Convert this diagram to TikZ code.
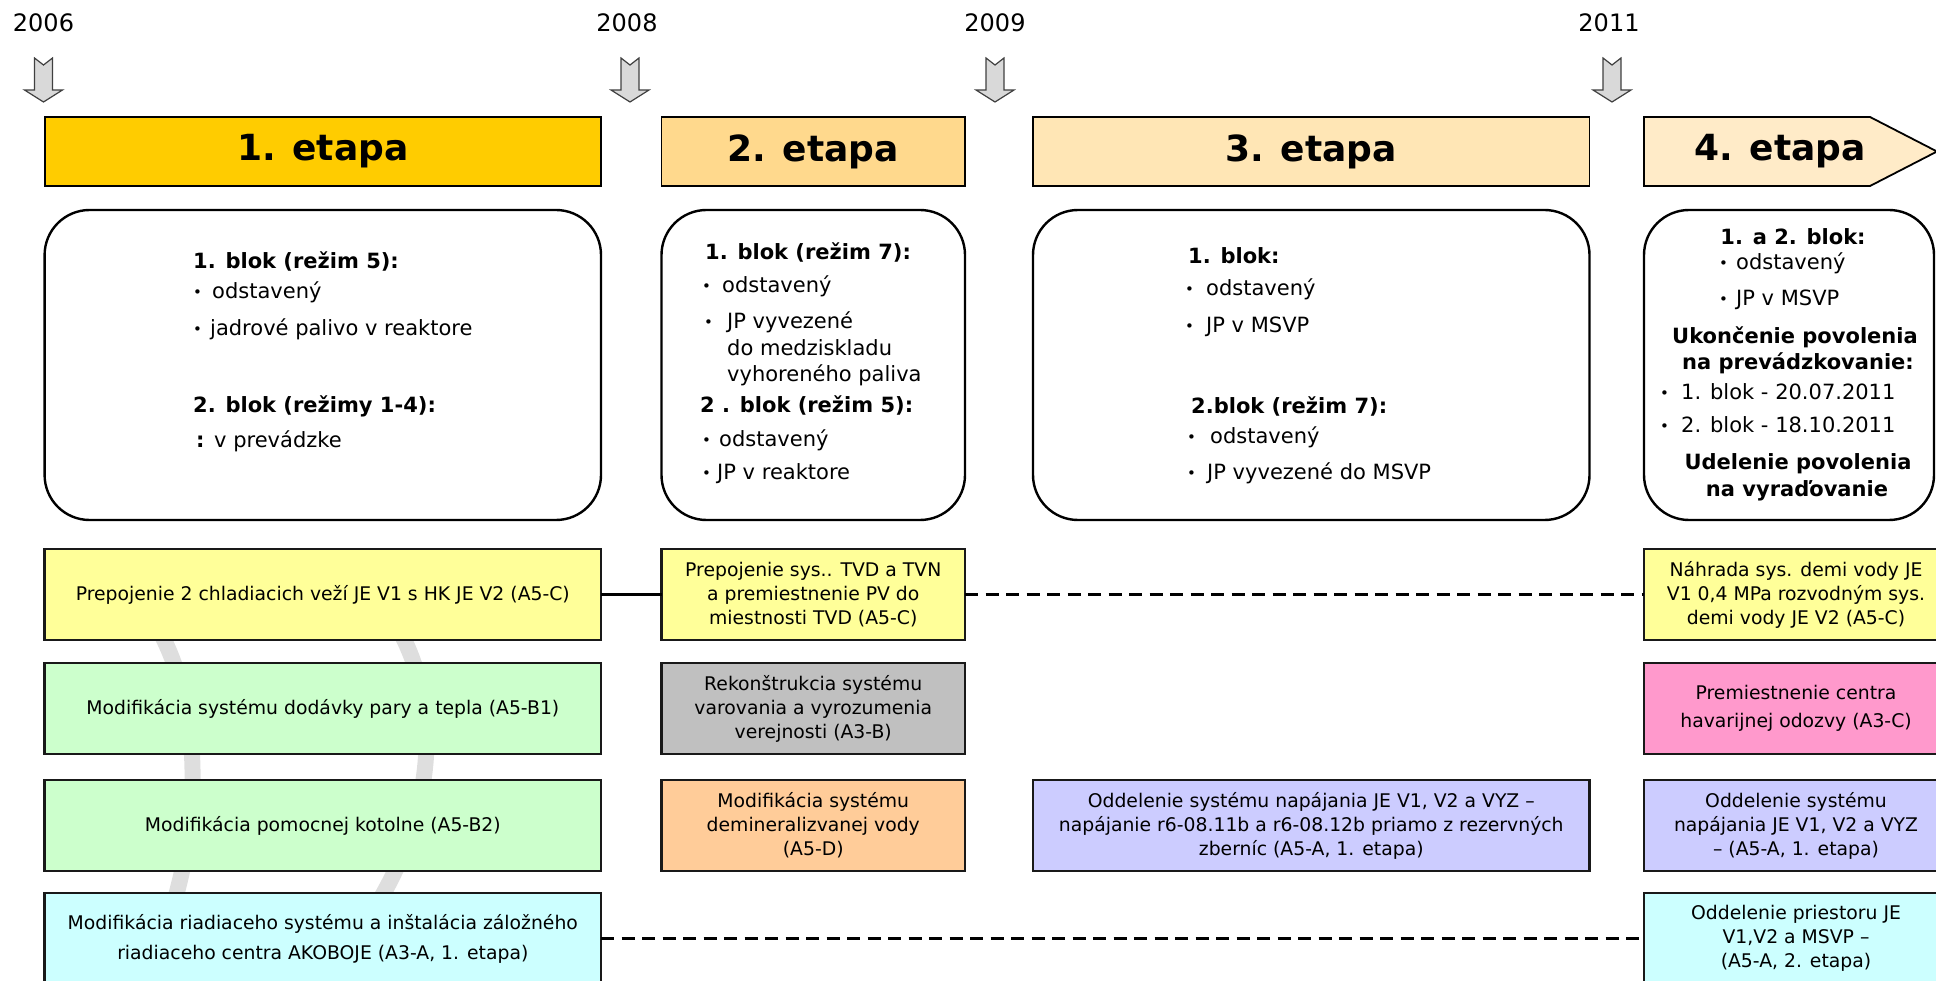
\documentclass[tikz,border=0pt]{standalone}
\usepackage{fontspec}
\setmainfont{DejaVu Sans}
\definecolor{etA}{HTML}{FFCC00}
\definecolor{etB}{HTML}{FFD98D}
\definecolor{etC}{HTML}{FFE6B5}
\definecolor{etD}{HTML}{FFEBC8}
\definecolor{cYel}{HTML}{FFFF99}
\definecolor{cGrn}{HTML}{CCFFCC}
\definecolor{cGry}{HTML}{C0C0C0}
\definecolor{cOrg}{HTML}{FFCC99}
\definecolor{cLav}{HTML}{CCCCFF}
\definecolor{cPnk}{HTML}{FF99CC}
\definecolor{cCyn}{HTML}{CCFFFF}
\newcommand\bl[1]{\makebox[#1][l]{\hspace*{-3pt}\raisebox{1.2pt}{\fontsize{15}{15}\selectfont\textbullet}}}
\tikzset{
  cbox/.style={draw=black!90, line width=2.8pt, inner sep=0pt, outer sep=0pt, align=center,
    font=\fontsize{18.8}{24}\selectfont},
  stbox/.style={draw=black, line width=2.4pt, rounded corners=45pt, inner sep=0pt, outer sep=0pt,
    minimum height=310pt},
  headbox/.style={draw=black, line width=1.8pt, inner sep=0pt, outer sep=0pt, minimum height=69pt,
    font=\fontsize{36}{40}\selectfont\bfseries},
  ln/.style={anchor=west, inner sep=0pt, text height=15.3pt, text depth=0pt,
    font=\fontsize{21}{24}\selectfont},
  lnb/.style={ln, font=\fontsize{21}{24}\selectfont\bfseries},
  lnc/.style={lnb, anchor=center},
  yeartxt/.style={font=\fontsize{24}{24}\selectfont, inner sep=0pt},
  yarr/.style={fill=black!15, draw=black!75, line width=1.2pt, line join=miter},
  conn/.style={line width=2.6pt},
  dconn/.style={line width=2.6pt, dash pattern=on 13pt off 7.5pt},
  wmark/.style={draw=black!13, line width=16pt, line cap=round},
}
\newcommand\yeararrow[1]{%
  \draw[yarr] (#1-9,58) -- (#1,65) -- (#1+9,58) -- (#1+9,90) -- (#1+19,90) -- (#1,102)
    -- (#1-19,90) -- (#1-9,90) -- cycle;}
\begin{document}
\begin{tikzpicture}[x=1pt,y=-1pt]
\useasboundingbox (0,0) rectangle (1936,981);
\clip (0,0) rectangle (1936,981);

% faint watermark swooshes
\draw[wmark] (140,600) .. controls (215,700) and (205,860) .. (140,990);
\draw[wmark] (380,600) .. controls (470,720) and (420,880) .. (310,990);

% years and arrows
\node[yeartxt] (y2006) at (43.5,23) {2006};
\node[yeartxt] (y2008) at (627,23) {2008};
\node[yeartxt] (y2009) at (995,23) {2009};
\node[yeartxt] (y2011) at (1609,23) {2011};
\yeararrow{43.5}
\yeararrow{630}
\yeararrow{995}
\yeararrow{1612}

% stage headers
\node[headbox, fill=etA, minimum width=556.4pt] (h1) at (322.8,151.5) {1. etapa};
\node[headbox, fill=etB, minimum width=303.5pt] (h2) at (813.25,151.5) {2. etapa};
\node[headbox, fill=etC, minimum width=556.5pt] (h3) at (1311.25,151.5) {3. etapa};
\draw[draw=black, line width=1.8pt, fill=etD] (1644,117) -- (1870,117) -- (1937,151.5)
  -- (1870,186) -- (1644,186) -- cycle;
\node[font=\fontsize{36}{40}\selectfont\bfseries, inner sep=0pt] (h4) at (1780,151.5) {4. etapa};

% status boxes
\node[stbox, minimum width=556.4pt] (s1) at (322.8,365) {};
\node[stbox, minimum width=303.5pt] (s2) at (813.25,365) {};
\node[stbox, minimum width=556.5pt] (s3) at (1311.25,365) {};
\node[stbox, minimum width=290pt] (s4) at (1789,365) {};

% status 1
\node[lnb] (s1a) at (193,261) {1. blok (režim 5):};
\node[ln] (s1b) at (196,291) {\bl{16pt}odstavený};
\node[ln] (s1c) at (196,328) {\bl{14pt}jadrové palivo v reaktore};
\node[lnb] (s1d) at (193,405) {2. blok (režimy 1-4):};
\node[ln] (s1e) at (196,440) {\makebox[18pt][l]{\bfseries :}v prevádzke};

% status 2
\node[lnb] (s2a) at (705,252) {1. blok (režim 7):};
\node[ln] (s2b) at (705,285) {\bl{17pt}odstavený};
\node[ln] (s2c) at (707,321) {\bl{20pt}JP vyvezené};
\node[ln] (s2d) at (727,348) {do medziskladu};
\node[ln] (s2e) at (727,374) {vyhoreného paliva};
\node[lnb] (s2f) at (700,405) {2 . blok (režim 5):};
\node[ln] (s2g) at (705,439) {\bl{14pt}odstavený};
\node[ln] (s2h) at (705,472) {\bl{12pt}JP v reaktore};

% status 3
\node[lnb] (s3a) at (1188,256) {1. blok:};
\node[ln] (s3b) at (1188,288) {\bl{18pt}odstavený};
\node[ln] (s3c) at (1188,325) {\bl{18pt}JP v MSVP};
\node[lnb] (s3d) at (1191,406) {2.blok (režim 7):};
\node[ln] (s3e) at (1190,436) {\bl{20pt}odstavený};
\node[ln] (s3f) at (1190,472) {\bl{17pt}JP vyvezené do MSVP};

% status 4
\node[lnc] (s4a) at (1793,237) {1. a 2. blok:};
\node[ln] (s4b) at (1722,262) {\bl{14pt}odstavený};
\node[ln] (s4c) at (1722,298) {\bl{14pt}JP v MSVP};
\node[lnc] (s4d) at (1795,336) {Ukončenie povolenia};
\node[lnc] (s4e) at (1798,362) {na prevádzkovanie:};
\node[ln] (s4f) at (1663,392) {\bl{18pt}1. blok - 20.07.2011};
\node[ln] (s4g) at (1663,425) {\bl{18pt}2. blok - 18.10.2011};
\node[lnc] (s4h) at (1798,462) {Udelenie povolenia};
\node[lnc] (s4i) at (1797,489) {na vyraďovanie};

% row 1
\node[cbox, fill=cYel, minimum width=556.4pt, minimum height=91pt] (r1c1) at (322.8,594.5)
  {Prepojenie 2 chladiacich veží JE V1 s HK JE V2 (A5-C)};
\node[cbox, fill=cYel, minimum width=303.5pt, minimum height=91pt] (r1c2) at (813.25,594.5)
  {Prepojenie sys.. TVD a TVN\\a premiestnenie PV do\\miestnosti TVD (A5-C)};
\node[cbox, fill=cYel, minimum width=304pt, minimum height=91pt] (r1c4) at (1796,594.5)
  {Náhrada sys. demi vody JE\\V1 0,4 MPa rozvodným sys.\\demi vody JE V2 (A5-C)};

% row 2
\node[cbox, fill=cGrn, minimum width=556.4pt, minimum height=91pt] (r2c1) at (322.8,708.5)
  {Modifikácia systému dodávky pary a tepla (A5-B1)};
\node[cbox, fill=cGry, minimum width=303.5pt, minimum height=91pt] (r2c2) at (813.25,708.5)
  {Rekonštrukcia systému\\varovania a vyrozumenia\\verejnosti (A3-B)};
\node[cbox, fill=cPnk, minimum width=304pt, minimum height=91pt,
  font=\fontsize{18.8}{28.5}\selectfont] (r2c4) at (1796,708.5)
  {Premiestnenie centra\\havarijnej odozvy (A3-C)};

% row 3
\node[cbox, fill=cGrn, minimum width=556.4pt, minimum height=91pt] (r3c1) at (322.8,825.5)
  {Modifikácia pomocnej kotolne (A5-B2)};
\node[cbox, fill=cOrg, minimum width=303.5pt, minimum height=91pt] (r3c2) at (813.25,825.5)
  {Modifikácia systému\\demineralizvanej vody\\(A5-D)};
\node[cbox, fill=cLav, minimum width=556.5pt, minimum height=91pt] (r3c3) at (1311.25,825.5)
  {Oddelenie systému napájania JE V1, V2 a VYZ –\\napájanie r6-08.11b a r6-08.12b priamo z rezervných\\zberníc (A5-A, 1. etapa)};
\node[cbox, fill=cLav, minimum width=304pt, minimum height=91pt] (r3c4) at (1796,825.5)
  {Oddelenie systému\\napájania JE V1, V2 a VYZ\\– (A5-A, 1. etapa)};

% row 4
\node[cbox, fill=cCyn, minimum width=556.4pt, minimum height=91pt,
  font=\fontsize{18.8}{30}\selectfont] (r4c1) at (322.8,938.5)
  {Modifikácia riadiaceho systému a inštalácia záložného\\riadiaceho centra AKOBOJE (A3-A, 1. etapa)};
\node[cbox, fill=cCyn, minimum width=304pt, minimum height=91pt] (r4c4) at (1796,938.5)
  {Oddelenie priestoru JE\\V1,V2 a MSVP –\\(A5-A, 2. etapa)};

% connectors
\draw[conn] (r1c1.east) -- (r1c2.west);
\draw[dconn] (r1c2.east) -- (r1c4.west);
\draw[dconn] (r4c1.east) -- (r4c4.west);
\end{tikzpicture}
\end{document}
